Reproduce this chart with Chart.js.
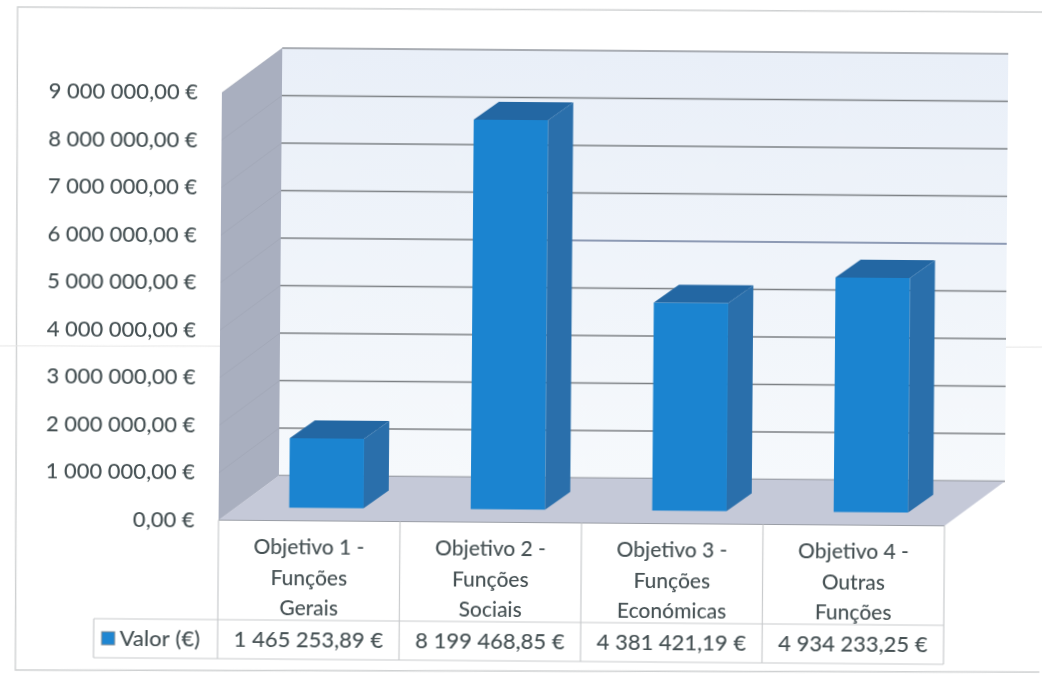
<!DOCTYPE html>
<html lang="pt">
<head>
<meta charset="utf-8">
<title>Valor por objetivo</title>
<script src="https://cdn.jsdelivr.net/npm/chart.js@4/dist/chart.umd.min.js"></script>
<style>
    html, body { margin: 0; padding: 0; background: #fff; overflow: hidden; }
    /* the original is a slightly crooked scan */
    #chart { display: block; transform: rotate(0.45deg); filter: blur(0.55px); }
</style>
</head>
<body>
<canvas id="chart" width="1042" height="675"></canvas>
<script>
const categories = [
    ["Objetivo 1 -", "Funções", "Gerais"],
    ["Objetivo 2 -", "Funções", "Sociais"],
    ["Objetivo 3 -", "Funções", "Económicas"],
    ["Objetivo 4 -", "Outras", "Funções"]
];
const seriesName = "Valor (€)";
const values = [1465253.89, 8199468.85, 4381421.19, 4934233.25];
const axisMax = 9000000;
const axisStep = 1000000;

const textColor = "#465154";
const fontFamily = "Lato, 'Open Sans', sans-serif";

// 3D look: wall depth, where the bars stand on the floor, bar depth
const wall = { dx: 60, dy: -45 };
const barShift = { dx: 17, dy: -13 };
const barDepth = { dx: 25, dy: -18 };

function euro(v) {
    const parts = v.toFixed(2).split(".");
    return parts[0].replace(/\B(?=(\d{3})+$)/g, " ") + "," + parts[1] + " €";
}

function poly(ctx, pts, fill) {
    ctx.beginPath();
    pts.forEach((p, i) => i ? ctx.lineTo(p[0], p[1]) : ctx.moveTo(p[0], p[1]));
    ctx.closePath();
    ctx.fillStyle = fill;
    ctx.fill();
}

const scene3d = {
    id: "scene3d",
    beforeDraw(chart) {
        const { ctx, chartArea: a, scales } = chart;
        const bl = a.left + wall.dx, br = a.right + wall.dx;
        const bt = a.top + wall.dy, bb = a.bottom + wall.dy;

        // scan frame and crease
        ctx.save();
        ctx.strokeStyle = "#cfd1d2";
        ctx.lineWidth = 1.4;
        ctx.beginPath();
        ctx.moveTo(1042, 8);
        ctx.lineTo(15, 11);
        ctx.lineTo(18, 674);
        ctx.lineTo(1042, 668);
        ctx.stroke();
        ctx.strokeStyle = "#e6e6e6";
        ctx.lineWidth = 1;
        ctx.beginPath();
        ctx.moveTo(0, 350);
        ctx.lineTo(1042, 343);
        ctx.stroke();

        // back wall
        const g = ctx.createLinearGradient(0, bt, 0, bb);
        g.addColorStop(0, "#e9eff8");
        g.addColorStop(1, "#f6f9fc");
        ctx.fillStyle = g;
        ctx.fillRect(bl, bt, br - bl, bb - bt);

        // grid lines sit on the back wall
        scales.y.ticks.forEach(t => {
            const y = scales.y.getPixelForValue(t.value) + wall.dy;
            ctx.strokeStyle = t.value === axisMax ? "#a4a8ae" : "#7c8084";
            ctx.lineWidth = 1.4;
            ctx.beginPath();
            ctx.moveTo(bl, y);
            ctx.lineTo(br, y);
            ctx.stroke();
        });
        // darker streak from the scan
        ctx.strokeStyle = "#8d9ab4";
        ctx.lineWidth = 2.2;
        ctx.beginPath();
        ctx.moveTo(570, scales.y.getPixelForValue(5000000) + wall.dy);
        ctx.lineTo(br, scales.y.getPixelForValue(5000000) + wall.dy);
        ctx.stroke();

        // side wall and floor
        poly(ctx, [[a.left, a.top], [bl, bt], [bl, bb], [a.left, a.bottom]], "#a9afbf");
        scales.y.ticks.forEach(t => {
            const y = scales.y.getPixelForValue(t.value);
            ctx.strokeStyle = "rgba(150,156,170,0.35)";
            ctx.lineWidth = 1;
            ctx.beginPath();
            ctx.moveTo(a.left, y);
            ctx.lineTo(bl, y + wall.dy);
            ctx.stroke();
        });
        poly(ctx, [[a.left, a.bottom], [bl, bb], [br, bb], [a.right, a.bottom]], "#c5c9d8");

        // wall edges
        ctx.strokeStyle = "#9a9ea6";
        ctx.lineWidth = 1.2;
        ctx.beginPath();
        ctx.moveTo(a.left, a.bottom);
        ctx.lineTo(a.right, a.bottom);
        ctx.moveTo(bl, bt);
        ctx.lineTo(br, bt);
        ctx.stroke();
        ctx.restore();
    },
    beforeDatasetsDraw(chart) {
        chart.ctx.save();
        chart.ctx.translate(barShift.dx, barShift.dy);
    },
    afterDatasetsDraw(chart) {
        const ctx = chart.ctx;
        chart.getDatasetMeta(0).data.forEach(bar => {
            const half = bar.width / 2;
            const l = bar.x - half, r = bar.x + half;
            poly(ctx, [[l, bar.y], [l + barDepth.dx, bar.y + barDepth.dy],
                [r + barDepth.dx, bar.y + barDepth.dy], [r, bar.y]], "#2367a3");
            poly(ctx, [[r, bar.y], [r + barDepth.dx, bar.y + barDepth.dy],
                [r + barDepth.dx, bar.base + barDepth.dy], [r, bar.base]], "#2a6fab");
        });
        ctx.restore();
    },
    afterDraw(chart) {
        const { ctx, chartArea: a, scales } = chart;
        const rowTop = 622, rowBottom = 661, keyLeft = 96;
        const step = (a.right - a.left) / categories.length;

        ctx.save();
        ctx.strokeStyle = "#c9cbcd";
        ctx.lineWidth = 1.2;
        ctx.beginPath();
        for (let i = 0; i <= categories.length; i++) {
            ctx.moveTo(a.left + step * i, a.bottom);
            ctx.lineTo(a.left + step * i, rowBottom);
        }
        ctx.moveTo(keyLeft, rowTop);
        ctx.lineTo(a.right, rowTop);
        ctx.moveTo(keyLeft, rowBottom);
        ctx.lineTo(a.right, rowBottom);
        ctx.moveTo(keyLeft, rowTop);
        ctx.lineTo(keyLeft, rowBottom);
        ctx.stroke();

        ctx.fillStyle = textColor;
        ctx.font = "500 22px " + fontFamily;
        ctx.textBaseline = "middle";
        ctx.textAlign = "center";
        values.forEach((v, i) => {
            ctx.fillText(euro(v), scales.x.getPixelForValue(i), (rowTop + rowBottom) / 2);
        });
        ctx.textAlign = "left";
        ctx.fillText(seriesName, 122, (rowTop + rowBottom) / 2);

        // legend key
        ctx.fillStyle = "#1f86d2";
        ctx.fillRect(104, 635, 13, 13);
        ctx.strokeStyle = "#7f8a94";
        ctx.lineWidth = 1;
        ctx.strokeRect(104, 635, 13, 13);
        ctx.restore();
    }
};

document.addEventListener("DOMContentLoaded", () => {
    new Chart(document.getElementById("chart"), {
        type: "bar",
        data: {
            labels: categories,
            datasets: [{
                label: seriesName,
                data: values,
                backgroundColor: "#1b84d0",
                barPercentage: 0.41,
                categoryPercentage: 1,
                clip: false
            }]
        },
        options: {
            responsive: false,
            animation: false,
            layout: { padding: { left: 0, right: 96, top: 95, bottom: 0 } },
            plugins: { legend: { display: false }, tooltip: { enabled: false } },
            scales: {
                x: {
                    grid: { display: false },
                    border: { display: false },
                    ticks: {
                        color: textColor,
                        font: { family: fontFamily, size: 21, weight: "500", lineHeight: 1.45 },
                        padding: 4,
                        maxRotation: 0,
                        autoSkip: false
                    },
                    afterFit(scale) { scale.height = 152.5; }
                },
                y: {
                    min: 0,
                    max: axisMax,
                    grid: { display: false, drawTicks: false },
                    border: { display: false },
                    ticks: {
                        stepSize: axisStep,
                        color: textColor,
                        font: { family: fontFamily, size: 22, weight: "500" },
                        padding: 24,
                        callback: v => euro(v)
                    },
                    afterFit(scale) { scale.width = 220; }
                }
            }
        },
        plugins: [scene3d]
    });
});
</script>
</body>
</html>
